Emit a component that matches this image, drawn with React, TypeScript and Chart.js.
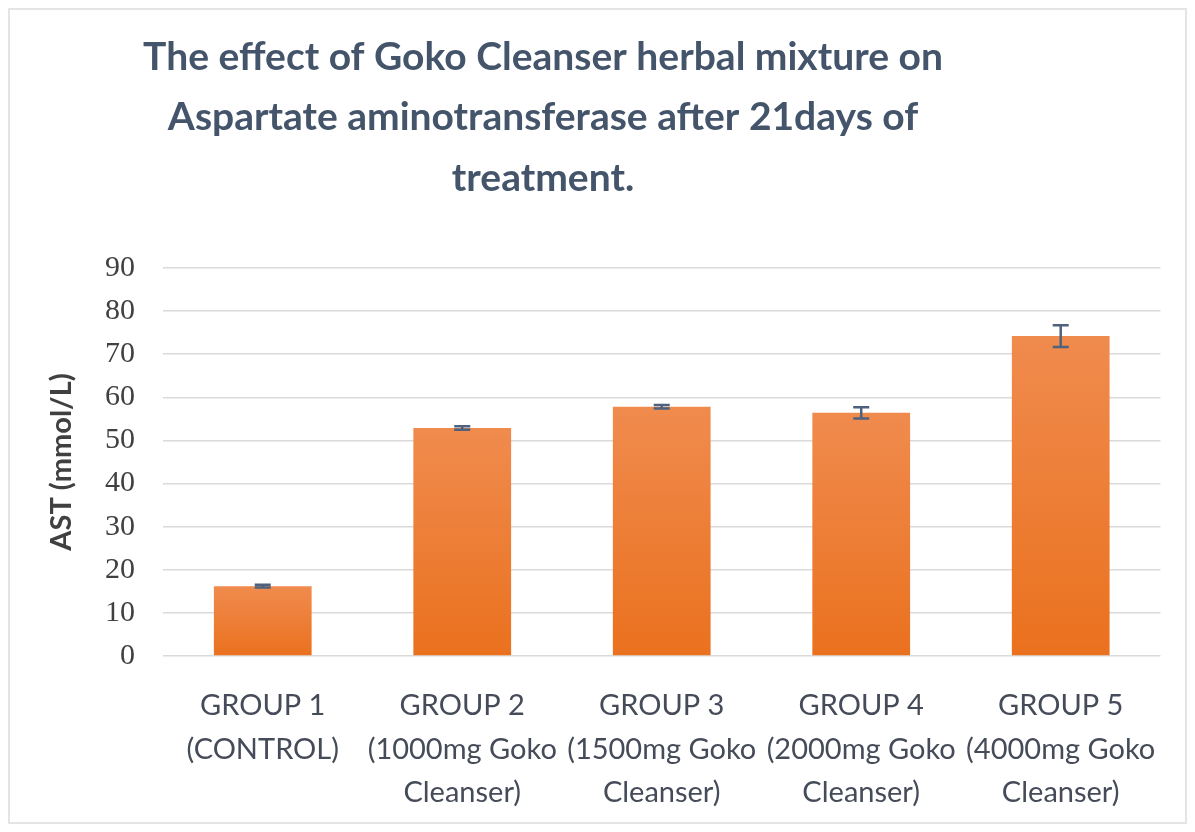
import React, { useEffect, useRef } from "react";
import { Chart, registerables } from "chart.js";

Chart.register(...registerables);

const titleLines = [
  "The effect of Goko Cleanser herbal mixture on",
  "Aspartate aminotransferase after 21days of",
  "treatment.",
];
const categories = [
  ["GROUP 1", "(CONTROL)"],
  ["GROUP 2", "(1000mg Goko", "Cleanser)"],
  ["GROUP 3", "(1500mg Goko", "Cleanser)"],
  ["GROUP 4", "(2000mg Goko", "Cleanser)"],
  ["GROUP 5", "(4000mg Goko", "Cleanser)"],
];
const astValues = [16.2, 52.9, 57.8, 56.4, 74.2];
const astErrors = [0.3, 0.4, 0.4, 1.3, 2.5];
const yAxisTitle = "AST (mmol/L)";
const yMin = 0;
const yMax = 90;
const yStep = 10;

const SANS = "Lato, 'Open Sans', sans-serif";

const errorBarPlugin = {
  id: "errorBars",
  afterDatasetsDraw(chart: any) {
    const ctx = chart.ctx;
    const meta = chart.getDatasetMeta(0);
    const y = chart.scales.y;
    ctx.save();
    ctx.strokeStyle = "#4E617D";
    ctx.lineWidth = 2.5;
    meta.data.forEach((bar: any, i: number) => {
      const v = astValues[i];
      const e = astErrors[i];
      const yt = y.getPixelForValue(v + e);
      const yb = y.getPixelForValue(v - e);
      const x = bar.x;
      const cap = 8;
      ctx.beginPath();
      ctx.moveTo(x, yt);
      ctx.lineTo(x, yb);
      ctx.moveTo(x - cap, yt);
      ctx.lineTo(x + cap, yt);
      ctx.moveTo(x - cap, yb);
      ctx.lineTo(x + cap, yb);
      ctx.stroke();
    });
    ctx.restore();
  },
};

const titlePlugin = {
  id: "customTitle",
  afterDraw(chart: any) {
    const ctx = chart.ctx;
    ctx.save();
    ctx.fillStyle = "#44546A";
    ctx.font = "bold 39px " + SANS;
    ctx.textAlign = "center";
    ctx.textBaseline = "middle";
    titleLines.forEach((line, i) => {
      ctx.fillText(line, 533, 47 + i * 60.5);
    });
    ctx.restore();
  },
};

export default function App() {
  const ref = useRef<HTMLCanvasElement | null>(null);
  useEffect(() => {
    if (!ref.current) return;
    const chart = new Chart(ref.current, {
      type: "bar",
      data: {
        labels: categories,
        datasets: [
          {
            data: astValues,
            backgroundColor: (context: any) => {
              const c = context.chart;
              const ys = c.scales && c.scales.y;
              if (!c.chartArea || !ys || context.dataIndex === undefined) return "#ED7D31";
              const v = astValues[context.dataIndex];
              const top = ys.getPixelForValue(v);
              const bottom = ys.getPixelForValue(0);
              if (!isFinite(top) || !isFinite(bottom) || top === bottom) return "#ED7D31";
              const g = c.ctx.createLinearGradient(0, top, 0, bottom);
              g.addColorStop(0, "#F08B4E");
              g.addColorStop(1, "#EA711E");
              return g;
            },
            borderWidth: 0,
            barPercentage: 0.49,
            categoryPercentage: 1,
          },
        ],
      },
      options: {
        responsive: false,
        animation: false,
        layout: { padding: { top: 258, left: 0, right: 17, bottom: 0 } },
        plugins: {
          legend: { display: false },
          title: { display: false },
          tooltip: { enabled: false },
        },
        scales: {
          x: {
            grid: { display: false, drawTicks: false },
            border: { display: false },
            ticks: {
              color: "#454B58",
              font: { family: SANS, size: 29, lineHeight: 1.5 },
              padding: 28,
              maxRotation: 0,
              autoSkip: false,
            },
            afterFit: (scale: any) => {
              scale.height = 166;
            },
          },
          y: {
            min: yMin,
            max: yMax,
            ticks: {
              stepSize: yStep,
              color: "#404040",
              font: { family: "'Liberation Serif', serif", size: 30 },
              padding: 28,
            },
            grid: { color: "#DADADA", lineWidth: 1.5, drawTicks: false },
            border: { display: false },
            title: {
              display: true,
              text: yAxisTitle,
              color: "#404040",
              font: { family: SANS, size: 29, weight: "bold" },
              padding: { top: 34, bottom: 0 },
            },
            afterFit: (scale: any) => {
              scale.width = 153;
            },
          },
        },
      },
      plugins: [errorBarPlugin, titlePlugin],
    } as any);
    return () => chart.destroy();
  }, []);

  return (
    <div
      style={{
        width: 1179,
        height: 816,
        boxSizing: "border-box",
        border: "2px solid #E4E4E4",
        background: "#fff",
      }}
    >
      <canvas ref={ref} width={1175} height={812} style={{ display: "block" }} />
    </div>
  );
}
